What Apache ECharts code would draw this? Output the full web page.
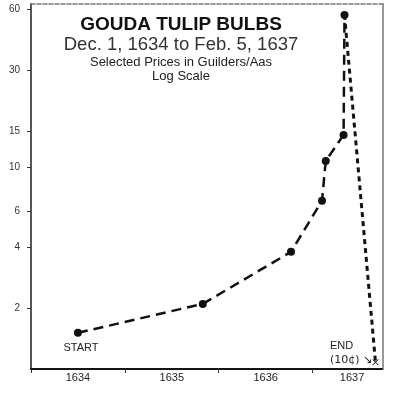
<!DOCTYPE html>
<html>
<head>
<meta charset="utf-8">
<script src="https://cdn.jsdelivr.net/npm/echarts@6/dist/echarts.min.js"></script>
<style>
  html, body { margin: 0; padding: 0; background: #fff; }
  #chart { width: 399px; height: 400px; }
</style>
</head>
<body>
<div id="chart"></div>
<script>
// positions along the time axis, in years
const years = [1634.5, 1635.83, 1636.77, 1637.1, 1637.14, 1637.33, 1637.34, 1637.67];
// prices in guilders per aas
const prices = [1.51, 2.1, 3.8, 6.8, 10.7, 14.4, 56.5, 1.08];
const yTicks = [2, 4, 6, 10, 15, 30, 60];
const xTicks = [1634, 1635, 1636, 1637];
const xLabelPos = [1634.5, 1635.5, 1636.5, 1637.42];

const rise = years.slice(0, 7).map((y, i) => [y, prices[i]]);
const crash = years.slice(6).map((y, i) => [y, prices[i + 6]]);

const crossPath = "path://M0,0L1,0L10,9L10,10L9,10L0,1ZM10,0L10,1L1,10L0,10L0,9L9,0Z";

const chart = echarts.init(document.getElementById("chart"));
chart.setOption({
    animation: false,
    grid: { left: 31, right: 16, top: 4, bottom: 31 },
    xAxis: [
        {
            type: "value",
            min: 1634,
            max: 1637.75,
            splitLine: { show: false },
            axisLine: { lineStyle: { color: "#111", width: 2, type: [3, 1] } },
            axisTick: { customValues: xTicks, length: 4, lineStyle: { color: "#333" } },
            axisLabel: {
                customValues: xLabelPos,
                formatter: (v) => String(Math.floor(v)),
                color: "#222",
                fontSize: 11,
                fontFamily: "Liberation Sans",
                margin: 3,
            },
        },
        {
            type: "value",
            position: "top",
            min: 1634,
            max: 1637.75,
            splitLine: { show: false },
            axisLine: { lineStyle: { color: "#777", width: 1.5, type: [4, 2] } },
            axisTick: { show: false },
            axisLabel: { show: false },
        },
    ],
    yAxis: [
        {
            type: "log",
            logBase: 10,
            min: 1,
            max: 64,
            splitLine: { show: false },
            minorTick: { show: false },
            axisLine: { lineStyle: { color: "#555", width: 2 } },
            axisTick: { customValues: yTicks, length: 4, lineStyle: { color: "#333" } },
            axisLabel: {
                customValues: yTicks,
                color: "#333",
                fontSize: 10,
                fontFamily: "Liberation Sans",
                margin: 11,
            },
        },
        {
            type: "log",
            position: "right",
            min: 1,
            max: 64,
            splitLine: { show: false },
            axisLine: { show: true, lineStyle: { color: "#999", width: 2 } },
            axisTick: { show: false },
            axisLabel: { show: false },
        },
    ],
    graphic: [
        { type: "text", style: { text: "GOUDA TULIP BULBS", x: 181, y: 25, textAlign: "center", textVerticalAlign: "middle", font: "bold 19px 'Liberation Sans'", fill: "#111" } },
        { type: "text", style: { text: "Dec. 1, 1634 to Feb. 5, 1637", x: 181, y: 45, textAlign: "center", textVerticalAlign: "middle", font: "18.5px 'Liberation Sans'", fill: "#333" } },
        { type: "text", style: { text: "Selected Prices in Guilders/Aas", x: 181, y: 62, textAlign: "center", textVerticalAlign: "middle", font: "13px 'Liberation Sans'", fill: "#222" } },
        { type: "text", style: { text: "Log Scale", x: 181, y: 76, textAlign: "center", textVerticalAlign: "middle", font: "13px 'Liberation Sans'", fill: "#222" } },
        { type: "text", style: { text: "START", x: 81, y: 348, textAlign: "center", textVerticalAlign: "middle", font: "11px 'Liberation Sans'", fill: "#222" } },
        { type: "text", style: { text: "END", x: 330, y: 346, textAlign: "left", textVerticalAlign: "middle", font: "11px 'Liberation Sans'", fill: "#222" } },
        { type: "text", style: { text: "(10¢) ↘", x: 330, y: 360, textAlign: "left", textVerticalAlign: "middle", font: "11px 'DejaVu Sans'", fill: "#222" } },
    ],
    series: [
        {
            type: "line",
            data: rise,
            symbol: "circle",
            symbolSize: 8,
            itemStyle: { color: "#111" },
            lineStyle: { color: "#111", width: 2.5, type: [10, 6] },
        },
        {
            type: "line",
            data: crash,
            symbol: (val, params) => (params.dataIndex === crash.length - 1 ? crossPath : "none"),
            symbolSize: 6,
            itemStyle: { color: "#111" },
            lineStyle: { color: "#111", width: 3, type: [5, 4] },
        },
    ],
});
</script>
</body>
</html>
